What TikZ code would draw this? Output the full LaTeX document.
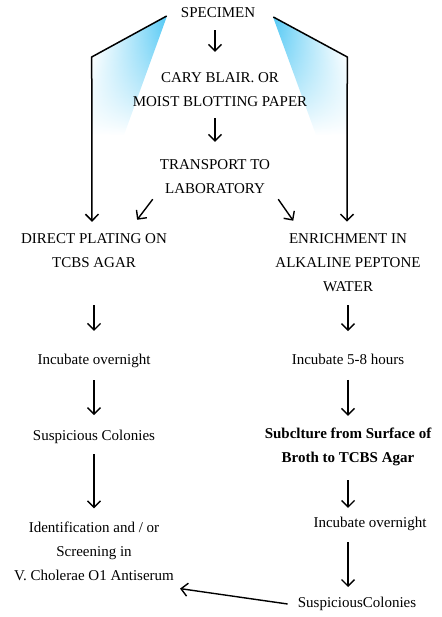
\documentclass[tikz,border=0pt]{standalone}
\usepackage{fontspec}
\setmainfont{Liberation Serif}
\usetikzlibrary{arrows.meta, fadings}
\definecolor{skyb}{RGB}{0,174,239}
\tikzfading[name=fadedown, top color=transparent!0, bottom color=transparent!100]
\tikzset{
  lbl/.style={inner sep=0pt, align=center, font=\fontsize{15}{24}\selectfont},
  arr/.style={-{Straight Barb[length=6.5pt,width=13pt]}, line width=1.4pt},
}

\begin{document}
\begin{tikzpicture}[x=1pt, y=1pt]
  \useasboundingbox (0,0) rectangle (441,-617);

  % blue wedges under the outer lines
  \shade[left color=white, right color=skyb, shading angle=70, path fading=fadedown]
    (167,-16) -- (92,-57) -- (92,-135) -- (124,-135) -- cycle;
  \shade[left color=skyb, right color=white, shading angle=110, path fading=fadedown]
    (273,-17) -- (347,-57) -- (347,-135) -- (316,-135) -- cycle;

  % top
  \node[lbl] (spec) at (218,-13) {SPECIMEN};
  \node[lbl] (cary) at (220,-90) {CARY BLAIR. OR\\MOIST BLOTTING PAPER};
  \node[lbl] (trans) at (215,-177) {TRANSPORT TO\\LABORATORY};

  % left column
  \node[lbl] (dpo) at (94,-251) {DIRECT PLATING ON\\TCBS AGAR};
  \node[lbl] (inc1) at (94,-361) {Incubate overnight};
  \node[lbl] (susp1) at (94,-437) {Suspicious Colonies};
  \node[lbl] (ident) at (94,-551) {Identification and / or\\Screening in\\V. Cholerae O1 Antiserum};

  % right column
  \node[lbl] (enr) at (348,-263) {ENRICHMENT IN\\ALKALINE PEPTONE\\WATER};
  \node[lbl] (inc2) at (348,-359.5) {Incubate 5-8 hours};
  \node[lbl, font=\fontsize{15}{24}\selectfont\bfseries] (sub) at (348,-447) {Subclture from Surface of\\Broth to TCBS Agar};
  \node[lbl] (inc3) at (370,-524) {Incubate overnight};
  \node[lbl] (susp2) at (357,-604) {SuspiciousColonies};

  % arrows
  \draw[arr, shorten <=12pt, shorten >=21pt] (spec.south -| trans) -- (cary.north -| trans);
  \draw[arr, shorten <=11pt, shorten >=18pt] (cary.south -| trans) -- (trans.north);
  \draw[arr] ([xshift=-7pt, yshift=-5pt]trans.south west) -- ([xshift=-30pt, yshift=14pt]dpo.north east);
  \draw[arr] ([xshift=8pt, yshift=-5pt]trans.south east) -- ([xshift=18pt, yshift=13pt]enr.north west);

  \draw[arr, shorten <=37pt, shorten >=23pt] (dpo) -- (inc1);
  \draw[arr, shorten <=12pt, shorten >=15pt] (inc1) -- (susp1);
  \draw[arr, shorten <=10pt, shorten >=13pt] (susp1) -- (ident);

  \draw[arr, shorten <=13pt, shorten >=23pt] (enr) -- (inc2);
  \draw[arr, shorten <=15pt, shorten >=12pt] (inc2) -- (sub);
  \draw[arr, shorten <=14pt, shorten >=9pt] (sub.south) -- (sub.south |- inc3.north);
  \draw[arr, shorten <=11pt, shorten >=10pt] (inc3.south -| sub) -- (susp2.north -| sub);
  \draw[arr] ([xshift=-10pt]susp2.west) -- ([xshift=6pt, yshift=-8pt]ident.south east);

  % outer lines
  \draw[arr, line width=1.5pt] ([xshift=-14pt, yshift=-3pt]spec.west) -- ++(-75,-41) -- ([xshift=-2pt, yshift=12pt]dpo.north);
  \draw[arr, line width=1.5pt] ([xshift=18pt, yshift=-4pt]spec.east) -- ++(74,-40) -- ([xshift=-1pt, yshift=12pt]enr.north);
\end{tikzpicture}
\end{document}
